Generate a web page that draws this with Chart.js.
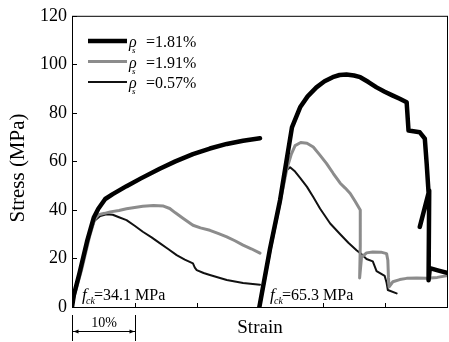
<!DOCTYPE html>
<html>
<head>
<meta charset="utf-8">
<script src="https://cdn.jsdelivr.net/npm/chart.js@4"></script>
<style>
  html, body { margin: 0; padding: 0; background: #fff; }
  #wrap { width: 449px; height: 342px; position: relative; }
</style>
</head>
<body>
<div id="wrap"><canvas id="stressChart"></canvas></div>
<script>
// group 1: f_ck = 34.1 MPa, group 2: f_ck = 65.3 MPa (shifted along strain axis)
const seriesNames = ['=1.81%', '=1.91%', '=0.57%'];
const yTicks = [0, 20, 40, 60, 80, 100, 120];

const strainThick1 = [0, 0.3, 1.2, 2.4, 3.0, 3.5, 4.2, 5.3, 6.5, 8.7, 11, 14, 16.5, 19.3, 22, 24.7, 27.3, 30];
const stressThick1 = [0, 5, 14, 27, 32.5, 37, 40.5, 44.5, 46.5, 49.8, 53, 57, 60, 63, 65.3, 67.2, 68.5, 69.5];
const strainThick2 = [29.9, 31.6, 33.2, 35.1, 36.4, 37.6, 39, 40.3, 41.6, 42.7, 43.8, 45, 46, 47.3, 48.6, 49.9, 51.2, 52.3, 53.4, 53.7, 55.5, 56.3, 56.6, 56.9, 55.5, 57.0, 56.9, 57.1, 58.5, 60];
const stressThick2 = [0, 24, 44, 74, 82.3, 86.8, 90.5, 93, 94.7, 95.6, 95.8, 95.4, 94.7, 92.7, 90.5, 88.7, 87.1, 85.8, 84.4, 72.7, 72, 69.4, 59, 47, 33, 48, 11, 16, 15, 14];

const strainGray1 = [0, 0.3, 1.5, 2.8, 3.6, 4.2, 5.2, 6.1, 7.5, 8.7, 10, 11.3, 13, 14.6, 15.6, 16.5, 17.7, 19.3, 20.5, 22, 23.3, 24.7, 26, 27.3, 28.6, 30];
const stressGray1 = [0, 4, 15, 29, 36, 38, 38.6, 39.2, 39.8, 40.5, 41, 41.5, 41.8, 41.6, 40.6, 38.8, 36.6, 33.7, 32.6, 31.6, 30.3, 28.9, 27.3, 25.5, 24, 22.2];
const strainGray2 = [29.9, 31.6, 33.2, 34.3, 35, 35.6, 36.5, 37.5, 38.5, 39.5, 40.6, 41.7, 42.8, 43.6, 44.4, 45.2, 46, 46, 45.9, 46.2, 47, 48, 49.3, 50.2, 50.4, 50.5, 50.6, 51.2, 52.3, 53.4, 55, 56.6, 58.3, 60];
const stressGray2 = [0, 23, 43, 57, 63, 66.5, 67.8, 67.5, 65.9, 62.8, 59.2, 55, 51, 49, 46.8, 43.5, 40, 25, 12, 20.5, 22.3, 22.7, 22.6, 22, 19.3, 12, 8.3, 10.4, 11.3, 11.8, 12, 11.8, 12.2, 13];

const strainThin1 = [0, 0.3, 1.5, 2.8, 3.6, 4.5, 5.5, 6.5, 7.5, 8.7, 10, 11.3, 12.7, 14, 15.4, 16.7, 18, 19.3, 19.6, 19.9, 21, 22, 24.7, 27.3, 30];
const stressThin1 = [0, 4, 16, 30, 35.5, 37.5, 38.2, 38, 37, 35.8, 33.5, 31, 28.7, 26.3, 23.8, 21.4, 19.5, 18, 16.2, 15.2, 14, 13.2, 11.1, 9.9, 9.2];
const strainThin2 = [29.9, 31.6, 33.2, 33.8, 34.3, 34.8, 35.6, 36.4, 37.5, 38.5, 39.6, 41.2, 42.8, 44.1, 45.4, 46.2, 47, 48, 48.6, 49.9, 50.2, 50.4, 51.8];
const stressThin2 = [0, 23, 43, 53, 56.5, 57.6, 55.8, 53.2, 49.5, 45.3, 40.5, 34.4, 30, 26.5, 23.4, 21.8, 19.8, 18.8, 14.8, 12.8, 10, 7, 5.6];

function pts(xs, ys) { return xs.map((x, i) => ({ x: x, y: ys[i] })); }
function joined(x1, y1, x2, y2) {
  return pts(x1, y1).concat([{ x: 29.95, y: null }], pts(x2, y2));
}

const serif = 'Liberation Serif, Times New Roman, serif';

const extras = {
  id: 'extras',
  afterDraw(chart) {
    const c = chart.ctx, a = chart.chartArea;
    const xs = chart.scales.x, ys = chart.scales.y;
    c.save();
    c.strokeStyle = '#000';
    c.fillStyle = '#000';
    c.lineWidth = 1;
    c.strokeRect(a.left + 0.5, a.top + 0.5, a.right - a.left - 1, a.bottom - a.top);

    // inner ticks
    c.beginPath();
    yTicks.forEach(v => {
      const y = Math.round(ys.getPixelForValue(v)) + 0.5;
      c.moveTo(a.left, y); c.lineTo(a.left + 5, y);
    });
    for (let v = 10; v < 60; v += 10) {
      const x = Math.round(xs.getPixelForValue(v)) + 0.5;
      c.moveTo(x, a.bottom); c.lineTo(x, a.bottom - 4);
    }
    c.stroke();

    // axis titles
    c.font = '21px ' + serif;
    c.textAlign = 'center';
    c.textBaseline = 'middle';
    c.save();
    c.translate(18, 168);
    c.rotate(-Math.PI / 2);
    c.fillText('Stress (MPa)', 0, 0);
    c.restore();
    c.font = '19px ' + serif;
    c.textBaseline = 'alphabetic';
    c.fillText('Strain', (a.left + a.right) / 2, 333);

    // 10% scale bar
    const b0 = Math.round(xs.getPixelForValue(0)) + 0.5;
    const b1 = Math.round(xs.getPixelForValue(10)) + 0.5;
    c.beginPath();
    c.moveTo(b0, 315); c.lineTo(b0, 341);
    c.moveTo(b1, 315); c.lineTo(b1, 341);
    c.moveTo(b0, 331.5); c.lineTo(b1, 331.5);
    c.stroke();
    c.beginPath();
    c.moveTo(b0 + 1, 331.5); c.lineTo(b0 + 6, 329.5); c.lineTo(b0 + 6, 333.5); c.closePath();
    c.moveTo(b1 - 1, 331.5); c.lineTo(b1 - 6, 329.5); c.lineTo(b1 - 6, 333.5); c.closePath();
    c.fill();
    c.font = '14px ' + serif;
    c.fillText('10%', (b0 + b1) / 2, 327);

    // legend
    c.textAlign = 'left';
    chart.data.datasets.forEach((ds, i) => {
      const y = 41 + i * 20.5;
      c.beginPath();
      c.strokeStyle = ds.borderColor;
      c.lineWidth = ds.borderWidth;
      c.moveTo(88, y); c.lineTo(127, y);
      c.stroke();
      c.fillStyle = '#000';
      c.font = 'italic 16px ' + serif;
      c.fillText('\u03c1', 129, y + 6);
      c.font = 'italic 9px ' + serif;
      c.fillText('s', 132, y + 12);
      c.font = '16px ' + serif;
      c.fillText(seriesNames[i], 146, y + 6);
    });

    // strength annotations
    [[1.6, '=34.1 MPa'], [31.6, '=65.3 MPa']].forEach(([v, t]) => {
      const x = xs.getPixelForValue(v);
      c.font = 'italic 17px ' + serif;
      c.fillText('f', x, 300);
      c.font = 'italic 10px ' + serif;
      c.fillText('ck', x + 4, 304);
      c.font = '16px ' + serif;
      c.fillText(t, x + 12, 300);
    });
    c.restore();
  }
};

new Chart(document.getElementById('stressChart'), {
  type: 'scatter',
  data: {
    datasets: [
      { label: seriesNames[0], data: joined(strainThick1, stressThick1, strainThick2, stressThick2),
        borderColor: '#000', borderWidth: 4.5 },
      { label: seriesNames[1], data: joined(strainGray1, stressGray1, strainGray2, stressGray2),
        borderColor: '#8c8c8c', borderWidth: 3 },
      { label: seriesNames[2], data: joined(strainThin1, stressThin1, strainThin2, stressThin2),
        borderColor: '#111', borderWidth: 2 }
    ].map(d => Object.assign(d, { showLine: true, pointRadius: 0, spanGaps: false, tension: 0, borderJoinStyle: 'round', borderCapStyle: 'round' }))
  },
  options: {
    responsive: true,
    maintainAspectRatio: false,
    animation: false,
    layout: { padding: { top: 15, right: 1, left: 0, bottom: 0 } },
    plugins: { legend: { display: false }, tooltip: { enabled: false } },
    scales: {
      x: {
        type: 'linear', min: 0, max: 60,
        ticks: { display: false, stepSize: 10 },
        grid: { display: false },
        border: { display: false },
        afterFit: s => { s.height = 35; }
      },
      y: {
        min: 0, max: 120,
        afterBuildTicks: s => { s.ticks = yTicks.map(v => ({ value: v })); },
        ticks: { color: '#000', padding: 5, font: { family: serif, size: 18 } },
        grid: { display: false, drawTicks: false },
        border: { display: false },
        afterFit: s => { s.width = 72; }
      }
    }
  },
  plugins: [extras]
});
</script>
</body>
</html>
